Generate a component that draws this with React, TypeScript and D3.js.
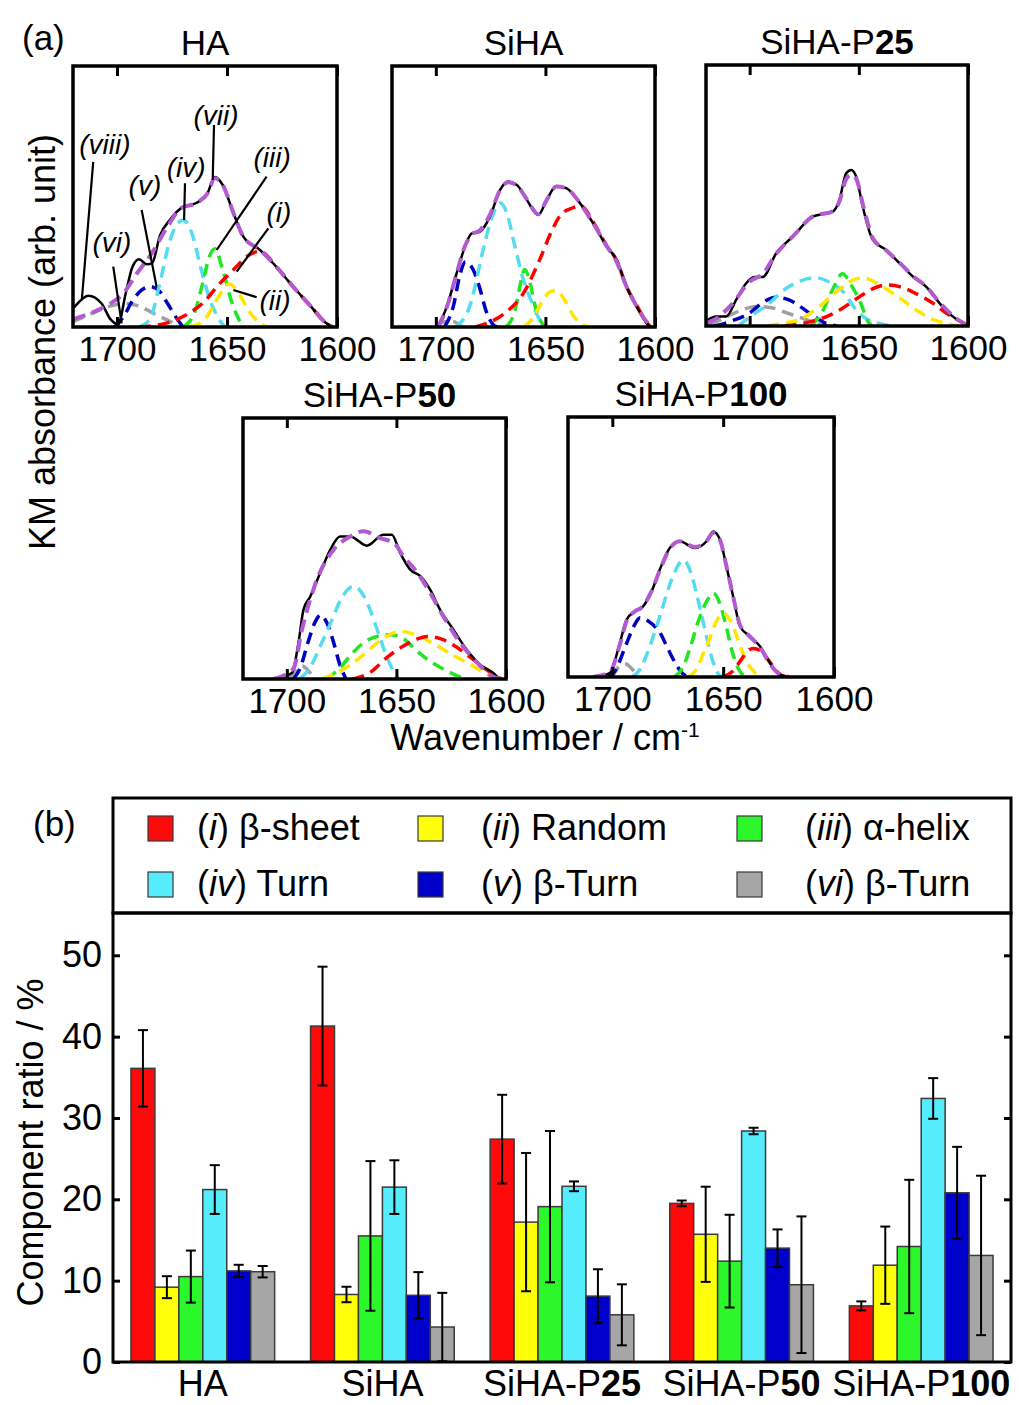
import React, { useEffect, useRef } from 'react'
import * as d3 from 'd3'

type Pt = [number, number]

// ---- (a) KM spectra: [wavenumber, absorbance scaled to the panel height] ----
const panelNames = ['HA', 'SiHA', 'SiHA-P25', 'SiHA-P50', 'SiHA-P100']
const panelTitleBold = ['', '', '25', '50', '100']
const wavenumberTicks = [1700, 1650, 1600]

const haMeasured: Pt[] = [[1720, 0.07], [1719, 0.08], [1713, 0.12], [1707, 0.09], [1703, 0.03], [1699.5, 0.01], [1696, 0.13], [1693, 0.23], [1690, 0.26], [1686.5, 0.24], [1684, 0.245], [1680.5, 0.35], [1676, 0.41], [1670, 0.46], [1664, 0.475], [1659, 0.51], [1655.5, 0.575], [1652, 0.545], [1647, 0.435], [1642.5, 0.345], [1635, 0.295], [1627.5, 0.23], [1620, 0.155], [1612, 0.08], [1605, 0.015], [1602, 0]]
const haFit: Pt[] = [[1720, 0.03], [1710, 0.06], [1703, 0.09], [1697, 0.13], [1691, 0.205], [1684, 0.285], [1677, 0.385], [1671, 0.455], [1664, 0.475], [1659, 0.51], [1655.5, 0.57], [1652, 0.545], [1647, 0.435], [1642.5, 0.345], [1635, 0.295], [1627.5, 0.23], [1620, 0.155], [1612, 0.08], [1605, 0.015], [1602, 0]]
const haSheet: Pt[] = [[1690, 0], [1680, 0.01], [1670, 0.04], [1660, 0.1], [1654, 0.16], [1647, 0.22], [1641, 0.27], [1635, 0.29], [1627.5, 0.23], [1620, 0.155], [1612, 0.08], [1605, 0.015], [1602, 0]]
const haRandom: Pt[] = [[1667, 0], [1660, 0.03], [1655, 0.1], [1649, 0.165], [1644, 0.12], [1640, 0.06], [1635, 0.015], [1632, 0]]
const haHelix: Pt[] = [[1670, 0], [1665, 0.05], [1661, 0.17], [1658, 0.27], [1655.5, 0.3], [1652, 0.22], [1648, 0.1], [1644, 0.02], [1642, 0]]
const haTurn: Pt[] = [[1690, 0], [1685, 0.03], [1681, 0.15], [1676, 0.33], [1670, 0.41], [1666, 0.36], [1662, 0.23], [1658, 0.11], [1655, 0.05], [1651, 0]]
const haBTurn5: Pt[] = [[1701, 0], [1697, 0.04], [1693, 0.1], [1689, 0.14], [1685, 0.155], [1681, 0.14], [1677, 0.09], [1673, 0.035], [1670, 0]]
const haBTurn6: Pt[] = [[1720, 0.02], [1712, 0.05], [1703, 0.08], [1696, 0.09], [1690, 0.08], [1684, 0.055], [1678, 0.03], [1672, 0.008], [1668, 0]]

const siMeasured: Pt[] = [[1699, 0], [1695, 0.078], [1690.5, 0.206], [1686.7, 0.308], [1683.6, 0.359], [1680, 0.365], [1675.3, 0.423], [1670.7, 0.525], [1667, 0.557], [1663, 0.544], [1658.5, 0.487], [1653.3, 0.429], [1649.4, 0.487], [1645, 0.54], [1640.3, 0.531], [1634.2, 0.474], [1628.2, 0.397], [1622, 0.308], [1617.5, 0.257], [1613, 0.154], [1608.4, 0.078], [1603.8, 0.014], [1602, 0]]
const siFit: Pt[] = [[1699, 0], [1695, 0.075], [1690.5, 0.205], [1686.7, 0.31], [1683.6, 0.355], [1680, 0.37], [1675.3, 0.43], [1670.7, 0.525], [1667, 0.555], [1663, 0.542], [1658.5, 0.49], [1653.3, 0.432], [1649.4, 0.487], [1645, 0.538], [1640.3, 0.53], [1634.2, 0.474], [1628.2, 0.397], [1622, 0.31], [1617.5, 0.25], [1613, 0.155], [1608.4, 0.08], [1603.8, 0.02], [1601, 0]]
const siSheet: Pt[] = [[1682, 0], [1675, 0.02], [1669, 0.05], [1660, 0.13], [1652.5, 0.26], [1647, 0.37], [1643, 0.43], [1638, 0.455], [1634, 0.465], [1628, 0.4], [1622, 0.31], [1617.5, 0.255], [1613, 0.155], [1608, 0.078], [1603.5, 0.014], [1602, 0]]
const siRandom: Pt[] = [[1660, 0], [1656, 0.03], [1652, 0.09], [1648, 0.135], [1645, 0.14], [1641, 0.1], [1637, 0.04], [1633, 0.01], [1630, 0]]
const siHelix: Pt[] = [[1668, 0], [1664, 0.06], [1661, 0.18], [1659.5, 0.22], [1657, 0.17], [1655, 0.09], [1652, 0.02], [1650, 0]]
const siTurn: Pt[] = [[1691, 0], [1684.5, 0.08], [1678, 0.31], [1674, 0.43], [1670.5, 0.475], [1667, 0.42], [1664.5, 0.33], [1660, 0.18], [1656, 0.09], [1654, 0.05], [1650, 0]]
const siBTurn5: Pt[] = [[1696, 0], [1692, 0.08], [1689, 0.2], [1686.5, 0.25], [1683, 0.22], [1680, 0.15], [1677, 0.06], [1674, 0.01], [1672, 0]]
const siBTurn6: Pt[] = [[1700, 0], [1696, 0.02], [1692, 0.02], [1688, 0]]

const p25Measured: Pt[] = [[1719.3, 0.023], [1715.4, 0.036], [1710.8, 0.036], [1706.2, 0.1], [1701.7, 0.163], [1697.8, 0.188], [1694, 0.188], [1687.9, 0.278], [1680.3, 0.342], [1671.1, 0.419], [1661.9, 0.438], [1658.9, 0.483], [1655.8, 0.585], [1653.5, 0.598], [1651.2, 0.572], [1648.2, 0.457], [1643.6, 0.33], [1637.4, 0.291], [1631.3, 0.24], [1625.2, 0.189], [1619.1, 0.15], [1613, 0.087], [1606.9, 0.036], [1600.7, 0.004]]
const p25Fit: Pt[] = [[1719.5, 0.01], [1715, 0.03], [1708, 0.085], [1700, 0.17], [1694, 0.2], [1688, 0.275], [1680, 0.345], [1671, 0.42], [1662, 0.44], [1659, 0.475], [1656, 0.56], [1653.5, 0.58], [1651, 0.56], [1648, 0.46], [1643.5, 0.335], [1637.5, 0.29], [1631, 0.24], [1625, 0.19], [1619, 0.15], [1613, 0.09], [1607, 0.04], [1601, 0.005]]
const p25Sheet: Pt[] = [[1684, 0], [1673, 0.015], [1665, 0.035], [1659, 0.06], [1650, 0.11], [1643, 0.145], [1637.5, 0.157], [1631, 0.15], [1624, 0.125], [1616, 0.087], [1610, 0.05], [1605, 0.025], [1600.5, 0.005]]
const p25Random: Pt[] = [[1692, 0], [1685, 0.01], [1677, 0.025], [1668, 0.075], [1659, 0.14], [1653, 0.175], [1648, 0.185], [1642, 0.165], [1637, 0.14], [1630, 0.1], [1623.5, 0.06], [1616, 0.025], [1610, 0.01], [1604, 0]]
const p25Helix: Pt[] = [[1672, 0], [1667, 0.05], [1662, 0.14], [1657.5, 0.2], [1653, 0.15], [1649, 0.085], [1646, 0.02], [1644, 0]]
const p25Turn: Pt[] = [[1705, 0], [1700, 0.035], [1692, 0.08], [1684, 0.14], [1676, 0.175], [1669.5, 0.185], [1663, 0.165], [1657, 0.13], [1652, 0.07], [1647, 0.03], [1640, 0.008], [1634, 0]]
const p25BTurn5: Pt[] = [[1716, 0], [1708, 0.02], [1700, 0.05], [1694, 0.09], [1688, 0.11], [1682, 0.1], [1677, 0.075], [1671, 0.04], [1665, 0.01], [1660, 0]]
const p25BTurn6: Pt[] = [[1718, 0.005], [1712, 0.03], [1704, 0.06], [1697, 0.075], [1690, 0.07], [1683, 0.05], [1676, 0.03], [1670, 0.012], [1664, 0]]

const p50Measured: Pt[] = [[1706, 0], [1697.7, 0.023], [1694.7, 0.138], [1692.4, 0.266], [1689.3, 0.316], [1684.8, 0.406], [1680.2, 0.495], [1675.7, 0.546], [1671.1, 0.546], [1663.5, 0.511], [1655.9, 0.553], [1652.1, 0.553], [1648.3, 0.483], [1643.7, 0.419], [1639.2, 0.395], [1634.6, 0.342], [1630.1, 0.266], [1624, 0.189], [1617.9, 0.112], [1611.8, 0.055], [1605.8, 0.023], [1603, 0]]
const p50Fit: Pt[] = [[1706, 0], [1697, 0.04], [1693.1, 0.189], [1686.3, 0.38], [1678.7, 0.495], [1671.1, 0.546], [1665, 0.566], [1657.4, 0.54], [1651, 0.52], [1646.8, 0.47], [1640.7, 0.41], [1634.6, 0.33], [1628.6, 0.24], [1621, 0.14], [1613.3, 0.064], [1605.8, 0.008], [1603, 0]]
const p50Sheet: Pt[] = [[1670, 0], [1662, 0.025], [1654, 0.085], [1646, 0.13], [1640, 0.155], [1636, 0.163], [1630, 0.155], [1624, 0.13], [1618, 0.094], [1612, 0.055], [1607, 0.025], [1602, 0]]
const p50Random: Pt[] = [[1684, 0], [1678, 0.02], [1670, 0.06], [1664, 0.1], [1657, 0.15], [1648, 0.182], [1640, 0.165], [1632, 0.13], [1624, 0.09], [1616, 0.055], [1609, 0.02], [1604, 0]]
const p50Helix: Pt[] = [[1682, 0], [1676, 0.04], [1670, 0.1], [1664, 0.145], [1658, 0.165], [1653, 0.17], [1647, 0.155], [1641, 0.11], [1635, 0.07], [1629, 0.04], [1623, 0.015], [1618, 0]]
const p50Turn: Pt[] = [[1694, 0], [1689, 0.05], [1684, 0.14], [1680, 0.215], [1675, 0.31], [1669.5, 0.355], [1665, 0.32], [1662, 0.265], [1658, 0.17], [1655.5, 0.11], [1652, 0.04], [1649, 0]]
const p50BTurn5: Pt[] = [[1697, 0], [1694, 0.04], [1690, 0.15], [1687, 0.22], [1684.5, 0.245], [1682, 0.22], [1679, 0.15], [1676, 0.06], [1673, 0]]
const p50BTurn6: Pt[] = [[1699, 0], [1696, 0.03], [1693, 0.05], [1690, 0.03], [1687, 0]]

const p100Measured: Pt[] = [[1708.7, 0], [1701.2, 0.015], [1696.6, 0.131], [1693.6, 0.22], [1689.9, 0.252], [1686.8, 0.265], [1682.3, 0.329], [1678.6, 0.413], [1674.1, 0.496], [1669.6, 0.522], [1662.8, 0.496], [1657.5, 0.522], [1654.5, 0.56], [1651.5, 0.53], [1648.5, 0.425], [1645.5, 0.31], [1642.4, 0.195], [1637.9, 0.156], [1633.4, 0.118], [1628.9, 0.054], [1624.4, 0.009], [1620, 0]]
const p100Fit: Pt[] = [[1708.7, 0], [1701.2, 0.018], [1696.6, 0.125], [1693.6, 0.215], [1689.9, 0.252], [1686.8, 0.268], [1682.3, 0.33], [1678.6, 0.41], [1674.1, 0.493], [1669.6, 0.522], [1662.8, 0.5], [1657.5, 0.522], [1654.5, 0.555], [1651.5, 0.528], [1648.5, 0.425], [1645.5, 0.31], [1642.4, 0.2], [1637.9, 0.155], [1633.4, 0.115], [1628.9, 0.05], [1624.4, 0.01], [1620, 0]]
const p100Sheet: Pt[] = [[1650, 0], [1646, 0.02], [1642, 0.065], [1639, 0.1], [1636.5, 0.11], [1633, 0.1], [1630, 0.07], [1627, 0.035], [1624, 0.008], [1621, 0]]
const p100Random: Pt[] = [[1666, 0], [1662, 0.03], [1659, 0.09], [1656, 0.15], [1653, 0.215], [1650, 0.246], [1647, 0.22], [1644, 0.16], [1641.5, 0.1], [1639.5, 0.06], [1636, 0.02], [1633, 0]]
const p100Helix: Pt[] = [[1672, 0], [1668, 0.04], [1665, 0.11], [1661, 0.22], [1657.5, 0.29], [1654.5, 0.323], [1651, 0.27], [1648.5, 0.19], [1646, 0.1], [1643, 0.03], [1640, 0]]
const p100Turn: Pt[] = [[1691, 0], [1687.5, 0.03], [1683, 0.12], [1678.5, 0.235], [1673, 0.38], [1668, 0.45], [1664.5, 0.4], [1662, 0.32], [1659.5, 0.23], [1657.5, 0.155], [1655, 0.07], [1652, 0.01], [1650, 0]]
const p100BTurn5: Pt[] = [[1702, 0], [1699, 0.02], [1694, 0.12], [1690, 0.2], [1687.5, 0.228], [1683, 0.21], [1678.5, 0.17], [1675, 0.11], [1672, 0.06], [1669, 0.02], [1666, 0]]
const p100BTurn6: Pt[] = [[1700, 0], [1697, 0.04], [1694, 0.05], [1691, 0.03], [1688, 0]]

// HA peak labels: text centre, leader start, leader end (wavenumber, scaled absorbance)
const haLabels = ['(viii)', '(vii)', '(v)', '(iv)', '(vi)', '(iii)', '(i)', '(ii)']
const haLabelAt: Pt[] = [[1705.5, 0.7], [1655, 0.81], [1687.3, 0.544], [1668.6, 0.61], [1702.3, 0.322], [1629.5, 0.651], [1626.4, 0.437], [1628.2, 0.1]]
const haLeaderFrom: Pt[] = [[1710.8, 0.633], [1655.9, 0.774], [1688.8, 0.448], [1669.1, 0.551], [1701.7, 0.231], [1632, 0.576], [1631.2, 0.378], [1636.5, 0.114]]
const haLeaderTo: Pt[] = [[1716, 0.103], [1656.5, 0.563], [1682, 0.154], [1669.5, 0.41], [1697.9, 0.014], [1654.7, 0.295], [1645.6, 0.212], [1647.1, 0.142]]

// ---- (b) component ratios (%) ----
const groups = ['HA', 'SiHA', 'SiHA-P25', 'SiHA-P50', 'SiHA-P100']
const groupBase = ['HA', 'SiHA', 'SiHA-P', 'SiHA-P', 'SiHA-P']
const groupBold = ['', '', '25', '50', '100']
const componentNumerals = ['i', 'ii', 'iii', 'iv', 'v', 'vi']
const componentNames = ['β-sheet', 'Random', 'α-helix', 'Turn', 'β-Turn', 'β-Turn']
const betaSheet = [36.1, 41.3, 27.4, 19.5, 6.9]
const betaSheetErr = [4.7, 7.3, 5.45, 0.35, 0.55]
const randomCoil = [9.2, 8.3, 17.2, 15.7, 11.9]
const randomCoilErr = [1.35, 0.95, 8.5, 5.85, 4.75]
const alphaHelix = [10.5, 15.5, 19.1, 12.4, 14.2]
const alphaHelixErr = [3.2, 9.2, 9.3, 5.7, 8.2]
const turn = [21.2, 21.5, 21.6, 28.4, 32.4]
const turnErr = [3.0, 3.3, 0.6, 0.4, 2.5]
const betaTurnV = [11.2, 8.2, 8.1, 14.0, 20.8]
const betaTurnVErr = [0.75, 2.85, 3.3, 2.3, 5.65]
const betaTurnVi = [11.1, 4.3, 5.8, 9.5, 13.1]
const betaTurnViErr = [0.7, 4.2, 3.75, 8.4, 9.8]
const ratioTicks = [0, 10, 20, 30, 40, 50]

const lineColors = ['#ff0000', '#ffe600', '#22e622', '#55dcef', '#0000c0', '#a0a0a0']
const barColors = ['#ff0a0a', '#ffff0a', '#2bf72b', '#55ecfb', '#0000cc', '#a6a6a6']
const fitColor = '#b25ad0'
const FONT = "'Liberation Sans', Arial, sans-serif"

export default function App() {
  const svgRef = useRef<SVGSVGElement>(null)

  useEffect(() => {
    const svg = d3.select(svgRef.current)
    svg.selectAll('*').remove()
    svg.attr('font-family', FONT)

    // ---------------- (a) ----------------
    const spectra = [
      { measured: haMeasured, fit: haFit, comps: [haSheet, haRandom, haHelix, haTurn, haBTurn5, haBTurn6] },
      { measured: siMeasured, fit: siFit, comps: [siSheet, siRandom, siHelix, siTurn, siBTurn5, siBTurn6] },
      { measured: p25Measured, fit: p25Fit, comps: [p25Sheet, p25Random, p25Helix, p25Turn, p25BTurn5, p25BTurn6] },
      { measured: p50Measured, fit: p50Fit, comps: [p50Sheet, p50Random, p50Helix, p50Turn, p50BTurn5, p50BTurn6] },
      { measured: p100Measured, fit: p100Fit, comps: [p100Sheet, p100Random, p100Helix, p100Turn, p100BTurn5, p100BTurn6] },
    ]
    // panel frames on the page
    const boxes = [
      { x: 73, y: 66, w: 264, h: 261 },
      { x: 392, y: 66, w: 263, h: 261 },
      { x: 706, y: 65, w: 262, h: 261 },
      { x: 243, y: 418, w: 263, h: 261 },
      { x: 568, y: 417, w: 266, h: 260 },
    ]

    spectra.forEach((sp, i) => {
      const b = boxes[i]
      const xs = d3.scaleLinear().domain([1720, 1600]).range([b.x, b.x + b.w])
      const ys = d3.scaleLinear().domain([0, 1]).range([b.y + b.h, b.y])
      const line = d3.line<Pt>().x(d => xs(d[0])).y(d => ys(d[1])).curve(d3.curveMonotoneX)
      const g = svg.append('g')

      const clipId = `clip-${i}`
      svg.append('clipPath').attr('id', clipId)
        .append('rect').attr('x', b.x).attr('y', b.y).attr('width', b.w).attr('height', b.h)
      const plot = g.append('g').attr('clip-path', `url(#${clipId})`)

      // fitted components, drawn back to front
      ;[5, 4, 3, 2, 1, 0].forEach(c => {
        plot.append('path')
          .attr('d', line(sp.comps[c]))
          .attr('fill', 'none')
          .attr('stroke', lineColors[c])
          .attr('stroke-width', 3.5)
          .attr('stroke-dasharray', '12 7')
      })
      plot.append('path')
        .attr('d', line(sp.measured))
        .attr('fill', 'none')
        .attr('stroke', '#000')
        .attr('stroke-width', 2.5)
      plot.append('path')
        .attr('d', line(sp.fit))
        .attr('fill', 'none')
        .attr('stroke', fitColor)
        .attr('stroke-width', 4)
        .attr('stroke-dasharray', '13 7')

      // axes: ticks point inward, labels below
      const bottom = g.append('g')
        .attr('transform', `translate(0,${b.y + b.h})`)
        .call(d3.axisBottom(xs).tickValues(wavenumberTicks).tickSize(-10).tickPadding(9).tickFormat(d3.format('d')))
      const top = g.append('g')
        .attr('transform', `translate(0,${b.y})`)
        .call(d3.axisTop(xs).tickValues(wavenumberTicks).tickSize(-10).tickFormat(() => ''))
      ;[bottom, top].forEach(ax => {
        ax.select('.domain').remove()
        ax.selectAll('line').attr('stroke-width', 3)
        ax.attr('font-family', FONT).attr('font-size', 35)
        ax.selectAll('text').attr('fill', '#000')
      })

      g.append('rect')
        .attr('x', b.x).attr('y', b.y).attr('width', b.w).attr('height', b.h)
        .attr('fill', 'none').attr('stroke', '#000').attr('stroke-width', 3.5)

      const title = g.append('text')
        .attr('x', b.x + b.w / 2 + (i === 3 ? 5 : 0)).attr('y', b.y - 11)
        .attr('text-anchor', 'middle').attr('font-size', 35)
      title.append('tspan').text(panelNames[i].replace(panelTitleBold[i], ''))
      if (panelTitleBold[i]) title.append('tspan').attr('font-weight', 'bold').text(panelTitleBold[i])

      if (i === 0) {
        haLabels.forEach((lab, k) => {
          g.append('line')
            .attr('x1', xs(haLeaderFrom[k][0])).attr('y1', ys(haLeaderFrom[k][1]))
            .attr('x2', xs(haLeaderTo[k][0])).attr('y2', ys(haLeaderTo[k][1]))
            .attr('stroke', '#000').attr('stroke-width', 2.2)
          g.append('text')
            .attr('x', xs(haLabelAt[k][0])).attr('y', ys(haLabelAt[k][1]))
            .attr('text-anchor', 'middle').attr('dominant-baseline', 'central')
            .attr('font-size', 28).attr('font-style', 'italic')
            .text(lab)
        })
      }
    })

    svg.append('text').attr('x', 22).attr('y', 50).attr('font-size', 35).text('(a)')
    svg.append('text')
      .attr('transform', 'translate(42,342) rotate(-90)')
      .attr('text-anchor', 'middle').attr('dominant-baseline', 'central')
      .attr('font-size', 36).text('KM absorbance (arb. unit)')
    const wl = svg.append('text').attr('x', 545).attr('y', 750).attr('text-anchor', 'middle').attr('font-size', 36)
    wl.append('tspan').text('Wavenumber / cm')
    wl.append('tspan').attr('font-size', 21).attr('dy', -13).text('-1')

    // ---------------- (b) ----------------
    const series = [betaSheet, randomCoil, alphaHelix, turn, betaTurnV, betaTurnVi]
    const errors = [betaSheetErr, randomCoilErr, alphaHelixErr, turnErr, betaTurnVErr, betaTurnViErr]
    const left = 113, right = 1011, plotTop = 913, plotBottom = 1362, legendTop = 798

    const xg = d3.scaleBand<string>().domain(groups).range([left, right]).paddingInner(0.2).paddingOuter(0.1)
    const xc = d3.scaleBand<number>().domain(d3.range(6)).range([0, xg.bandwidth()])
    const y = d3.scaleLinear().domain([0, 55.2]).range([plotBottom, plotTop])

    const bars = svg.append('g')
    groups.forEach((grp, gi) => {
      series.forEach((s, c) => {
        const x0 = xg(grp)! + xc(c)!
        bars.append('rect')
          .attr('x', x0).attr('y', y(s[gi]))
          .attr('width', xc.bandwidth()).attr('height', y(0) - y(s[gi]))
          .attr('fill', barColors[c]).attr('stroke', '#3a3a3a').attr('stroke-width', 1.5)
      })
    })
    groups.forEach((grp, gi) => {
      series.forEach((s, c) => {
        const cx = xg(grp)! + xc(c)! + xc.bandwidth() / 2
        const hi = y(s[gi] + errors[c][gi])
        const lo = y(Math.max(0, s[gi] - errors[c][gi]))
        const eb = bars.append('g').attr('stroke', '#000').attr('stroke-width', 2)
        eb.append('line').attr('x1', cx).attr('x2', cx).attr('y1', hi).attr('y2', lo)
        eb.append('line').attr('x1', cx - 5).attr('x2', cx + 5).attr('y1', hi).attr('y2', hi)
        eb.append('line').attr('x1', cx - 5).attr('x2', cx + 5).attr('y1', lo).attr('y2', lo)
      })
    })

    const yl = svg.append('g').attr('transform', `translate(${left},0)`)
      .call(d3.axisLeft(y).tickValues(ratioTicks).tickSize(-7).tickPadding(11).tickFormat(d3.format('d')))
    const yr = svg.append('g').attr('transform', `translate(${right},0)`)
      .call(d3.axisRight(y).tickValues(ratioTicks).tickSize(-7).tickFormat(() => ''))
    ;[yl, yr].forEach(ax => {
      ax.select('.domain').remove()
      ax.selectAll('line').attr('stroke-width', 3)
      ax.attr('font-family', FONT).attr('font-size', 36)
      ax.selectAll('text').attr('fill', '#000')
    })

    svg.append('rect')
      .attr('x', left).attr('y', plotTop).attr('width', right - left).attr('height', plotBottom - plotTop)
      .attr('fill', 'none').attr('stroke', '#000').attr('stroke-width', 3)
    svg.append('rect')
      .attr('x', left).attr('y', legendTop).attr('width', right - left).attr('height', plotTop - legendTop)
      .attr('fill', 'none').attr('stroke', '#000').attr('stroke-width', 3)

    groups.forEach((grp, gi) => {
      const t = svg.append('text')
        .attr('x', xg(grp)! + xg.bandwidth() / 2).attr('y', 1396)
        .attr('text-anchor', 'middle').attr('font-size', 36)
      t.append('tspan').text(groupBase[gi])
      if (groupBold[gi]) t.append('tspan').attr('font-weight', 'bold').text(groupBold[gi])
    })

    svg.append('text')
      .attr('transform', `translate(30,${(plotTop + plotBottom) / 2 + 5}) rotate(-90)`)
      .attr('text-anchor', 'middle').attr('dominant-baseline', 'central')
      .attr('font-size', 36).text('Component ratio / %')
    svg.append('text').attr('x', 33).attr('y', 836).attr('font-size', 35).text('(b)')

    // legend, three columns by two rows
    const legSquareX = [148, 418, 737]
    const legTextX = [197, 481, 805]
    const legRowY = [840, 896]
    componentNames.forEach((name, c) => {
      const col = c % 3, row = Math.floor(c / 3)
      svg.append('rect')
        .attr('x', legSquareX[col]).attr('y', legRowY[row] - 24)
        .attr('width', 25).attr('height', 25)
        .attr('fill', barColors[c]).attr('stroke', '#3a3a3a').attr('stroke-width', 1.2)
      const t = svg.append('text').attr('x', legTextX[col]).attr('y', legRowY[row]).attr('font-size', 36)
      t.append('tspan').text('(')
      t.append('tspan').attr('font-style', 'italic').text(componentNumerals[c])
      t.append('tspan').text(') ' + name)
    })
  }, [])

  return (
    <div style={{ position: 'absolute', left: 0, top: 0 }}>
      <svg ref={svgRef} width={1019} height={1405} style={{ display: 'block', background: '#fff' }} />
    </div>
  )
}
